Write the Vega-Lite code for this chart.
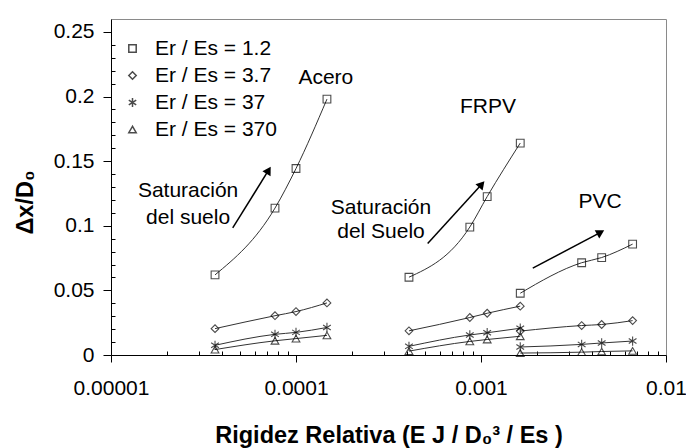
{
  "$schema": "https://vega.github.io/schema/vega-lite/v6.json",
  "width": 555,
  "height": 336,
  "autosize": {"type": "none"},
  "padding": {"left": 111, "top": 19, "right": 20, "bottom": 93},
  "config": {
    "font": "Liberation Sans",
    "view": {"stroke": "#8a8a8a", "strokeWidth": 1},
    "axis": {
      "grid": false, "domainColor": "black", "tickColor": "black", "domainWidth": 1, "tickWidth": 1,
      "labelFont": "Liberation Sans", "labelFontSize": 21, "labelColor": "black",
      "titleFont": "Liberation Sans", "titleFontSize": 23.5, "titleFontWeight": "bold", "titleColor": "black"
    },
    "legend": {
      "labelFont": "Liberation Sans", "labelFontSize": 21, "labelColor": "black"
    }
  },
  "datasets": {
    "pts": [
      {"mat": "Acero", "series": "Er / Es = 1.2", "x": 0.0000365, "y": 0.062},
      {"mat": "Acero", "series": "Er / Es = 1.2", "x": 0.000077, "y": 0.1137},
      {"mat": "Acero", "series": "Er / Es = 1.2", "x": 0.0001, "y": 0.1443},
      {"mat": "Acero", "series": "Er / Es = 1.2", "x": 0.000147, "y": 0.198},
      {"mat": "Acero", "series": "Er / Es = 3.7", "x": 0.0000365, "y": 0.0204},
      {"mat": "Acero", "series": "Er / Es = 3.7", "x": 0.000077, "y": 0.0304},
      {"mat": "Acero", "series": "Er / Es = 3.7", "x": 0.0001, "y": 0.0336},
      {"mat": "Acero", "series": "Er / Es = 3.7", "x": 0.000147, "y": 0.0403},
      {"mat": "Acero", "series": "Er / Es = 37", "x": 0.0000365, "y": 0.0075},
      {"mat": "Acero", "series": "Er / Es = 37", "x": 0.000077, "y": 0.016},
      {"mat": "Acero", "series": "Er / Es = 37", "x": 0.0001, "y": 0.0175},
      {"mat": "Acero", "series": "Er / Es = 37", "x": 0.000147, "y": 0.0213},
      {"mat": "Acero", "series": "Er / Es = 370", "x": 0.0000365, "y": 0.0042},
      {"mat": "Acero", "series": "Er / Es = 370", "x": 0.000077, "y": 0.011},
      {"mat": "Acero", "series": "Er / Es = 370", "x": 0.0001, "y": 0.0127},
      {"mat": "Acero", "series": "Er / Es = 370", "x": 0.000147, "y": 0.0152},
      {"mat": "FRPV", "series": "Er / Es = 1.2", "x": 0.000408, "y": 0.0602},
      {"mat": "FRPV", "series": "Er / Es = 1.2", "x": 0.00087, "y": 0.099},
      {"mat": "FRPV", "series": "Er / Es = 1.2", "x": 0.00108, "y": 0.1226},
      {"mat": "FRPV", "series": "Er / Es = 1.2", "x": 0.00163, "y": 0.164},
      {"mat": "FRPV", "series": "Er / Es = 3.7", "x": 0.000408, "y": 0.0187},
      {"mat": "FRPV", "series": "Er / Es = 3.7", "x": 0.00087, "y": 0.029},
      {"mat": "FRPV", "series": "Er / Es = 3.7", "x": 0.00108, "y": 0.0323},
      {"mat": "FRPV", "series": "Er / Es = 3.7", "x": 0.00163, "y": 0.0378},
      {"mat": "FRPV", "series": "Er / Es = 37", "x": 0.000408, "y": 0.0067},
      {"mat": "FRPV", "series": "Er / Es = 37", "x": 0.00087, "y": 0.0155},
      {"mat": "FRPV", "series": "Er / Es = 37", "x": 0.00108, "y": 0.0172},
      {"mat": "FRPV", "series": "Er / Es = 37", "x": 0.00163, "y": 0.0207},
      {"mat": "FRPV", "series": "Er / Es = 370", "x": 0.000408, "y": 0.003},
      {"mat": "FRPV", "series": "Er / Es = 370", "x": 0.00087, "y": 0.0105},
      {"mat": "FRPV", "series": "Er / Es = 370", "x": 0.00108, "y": 0.012},
      {"mat": "FRPV", "series": "Er / Es = 370", "x": 0.00163, "y": 0.0145},
      {"mat": "PVC", "series": "Er / Es = 1.2", "x": 0.00163, "y": 0.0478},
      {"mat": "PVC", "series": "Er / Es = 1.2", "x": 0.0035, "y": 0.0714},
      {"mat": "PVC", "series": "Er / Es = 1.2", "x": 0.00449, "y": 0.0754},
      {"mat": "PVC", "series": "Er / Es = 1.2", "x": 0.0066, "y": 0.0858},
      {"mat": "PVC", "series": "Er / Es = 3.7", "x": 0.00163, "y": 0.0185},
      {"mat": "PVC", "series": "Er / Es = 3.7", "x": 0.0035, "y": 0.0228},
      {"mat": "PVC", "series": "Er / Es = 3.7", "x": 0.00449, "y": 0.0236},
      {"mat": "PVC", "series": "Er / Es = 3.7", "x": 0.0066, "y": 0.0266},
      {"mat": "PVC", "series": "Er / Es = 37", "x": 0.00163, "y": 0.0062},
      {"mat": "PVC", "series": "Er / Es = 37", "x": 0.0035, "y": 0.0082},
      {"mat": "PVC", "series": "Er / Es = 37", "x": 0.00449, "y": 0.0093},
      {"mat": "PVC", "series": "Er / Es = 37", "x": 0.0066, "y": 0.0108},
      {"mat": "PVC", "series": "Er / Es = 370", "x": 0.00163, "y": 0.0015},
      {"mat": "PVC", "series": "Er / Es = 370", "x": 0.0035, "y": 0.0022},
      {"mat": "PVC", "series": "Er / Es = 370", "x": 0.00449, "y": 0.0027},
      {"mat": "PVC", "series": "Er / Es = 370", "x": 0.0066, "y": 0.0032}
    ],
    "arrows": [
      {"a": "acero", "x": 0.0000455, "y": 0.0983, "x2": 0.0000711, "y2": 0.143},
      {"a": "frpv", "x": 0.000515, "y": 0.0863, "x2": 0.001009, "y2": 0.1321},
      {"a": "pvc", "x": 0.001905, "y": 0.0672, "x2": 0.00443, "y2": 0.0949}
    ],
    "labels": [
      {"t": "Acero", "x": 0.000145, "y": 0.2142},
      {"t": "FRPV", "x": 0.00109, "y": 0.1918},
      {"t": "PVC", "x": 0.0044, "y": 0.1187},
      {"t": "Saturación", "x": 0.0000261, "y": 0.1269},
      {"t": "del suelo", "x": 0.0000261, "y": 0.106},
      {"t": "Saturación", "x": 0.000288, "y": 0.1137},
      {"t": "del Suelo", "x": 0.000288, "y": 0.0948}
    ]
  },
  "layer": [
    {
      "data": {"name": "pts"},
      "mark": {"type": "line", "interpolate": "monotone", "color": "#333333", "strokeWidth": 1},
      "encoding": {
        "x": {
          "field": "x", "type": "quantitative",
          "scale": {"type": "log", "domain": [0.00001, 0.01]},
          "axis": {
            "orient": "bottom", "values": [0.00001, 0.0001, 0.001, 0.01], "format": ".5~f",
            "tickSize": 7, "labelPadding": 15, "labelFlush": false, "labelOverlap": false,
            "title": "Rigidez Relativa (E J / D₀³ / Es )", "titleY": 80,
            "titleBaseline": "middle"
          }
        },
        "y": {
          "field": "y", "type": "quantitative",
          "scale": {"domain": [0, 0.25]},
          "axis": {
            "orient": "left", "values": [0, 0.05, 0.1, 0.15, 0.2, 0.25], "format": ".2~f",
            "tickSize": 8, "labelPadding": 9, "labelFlush": false, "labelOverlap": false,
            "title": "Δx/D₀", "titleX": -86, "titleY": 183, "titleAngle": -90,
            "titleBaseline": "middle", "titleAlign": "center"
          }
        },
        "detail": [{"field": "mat"}, {"field": "series"}],
        "order": {"field": "x"}
      }
    },
    {
      "data": {"name": "pts"},
      "mark": {"type": "point", "filled": false, "color": "black", "strokeWidth": 1.1, "size": 60},
      "encoding": {
        "x": {
          "field": "x", "type": "quantitative",
          "axis": {
            "orient": "bottom", "values": [0.00002, 0.00003, 0.00004, 0.00005, 0.00006, 0.00007, 0.00008, 0.00009, 0.0002, 0.0003, 0.0004, 0.0005, 0.0006, 0.0007, 0.0008, 0.0009, 0.002, 0.003, 0.004, 0.005, 0.006, 0.007, 0.008, 0.009],
            "labels": false, "domain": false, "tickSize": 4, "offset": -4, "title": null
          }
        },
        "y": {
          "field": "y", "type": "quantitative",
          "axis": {
            "orient": "left", "values": [0.01, 0.02, 0.03, 0.04, 0.06, 0.07, 0.08, 0.09, 0.11, 0.12, 0.13, 0.14, 0.16, 0.17, 0.18, 0.19, 0.21, 0.22, 0.23, 0.24],
            "labels": false, "domain": false, "tickSize": 4, "offset": -4, "title": null
          }
        },
        "shape": {
          "field": "series", "type": "nominal",
          "scale": {
            "domain": ["Er / Es = 1.2", "Er / Es = 3.7", "Er / Es = 37", "Er / Es = 370"],
            "range": ["square", "diamond", "M0,-1.2L0,1.2M-1,-0.65L1,0.65M-1,0.65L1,-0.65", "triangle-up"]
          },
          "legend": {
            "orient": "none", "legendX": 11, "legendY": 19, "title": null,
            "symbolSize": 55, "rowPadding": 5, "labelOffset": 12
          }
        }
      }
    },
    {
      "data": {"name": "arrows"},
      "mark": {"type": "rule", "color": "black", "strokeWidth": 1.5},
      "encoding": {
        "x": {"field": "x", "type": "quantitative", "axis": null},
        "y": {"field": "y", "type": "quantitative", "axis": null},
        "x2": {"field": "x2"},
        "y2": {"field": "y2"}
      }
    },
    {
      "data": {"name": "arrows"},
      "transform": [{"filter": "datum.a == 'acero'"}],
      "mark": {"type": "point", "shape": "triangle-up", "filled": true, "color": "black", "size": 90, "angle": 31, "opacity": 1},
      "encoding": {
        "x": {"field": "x2", "type": "quantitative", "axis": null},
        "y": {"field": "y2", "type": "quantitative", "axis": null}
      }
    },
    {
      "data": {"name": "arrows"},
      "transform": [{"filter": "datum.a == 'frpv'"}],
      "mark": {"type": "point", "shape": "triangle-up", "filled": true, "color": "black", "size": 90, "angle": 41, "opacity": 1},
      "encoding": {
        "x": {"field": "x2", "type": "quantitative", "axis": null},
        "y": {"field": "y2", "type": "quantitative", "axis": null}
      }
    },
    {
      "data": {"name": "arrows"},
      "transform": [{"filter": "datum.a == 'pvc'"}],
      "mark": {"type": "point", "shape": "triangle-up", "filled": true, "color": "black", "size": 90, "angle": 61, "opacity": 1},
      "encoding": {
        "x": {"field": "x2", "type": "quantitative", "axis": null},
        "y": {"field": "y2", "type": "quantitative", "axis": null}
      }
    },
    {
      "data": {"name": "labels"},
      "mark": {"type": "text", "font": "Liberation Sans", "fontSize": 21, "color": "black", "align": "center", "baseline": "middle"},
      "encoding": {
        "x": {"field": "x", "type": "quantitative", "axis": null},
        "y": {"field": "y", "type": "quantitative", "axis": null},
        "text": {"field": "t"}
      }
    }
  ],
  "resolve": {"axis": {"x": "independent", "y": "independent"}}
}
